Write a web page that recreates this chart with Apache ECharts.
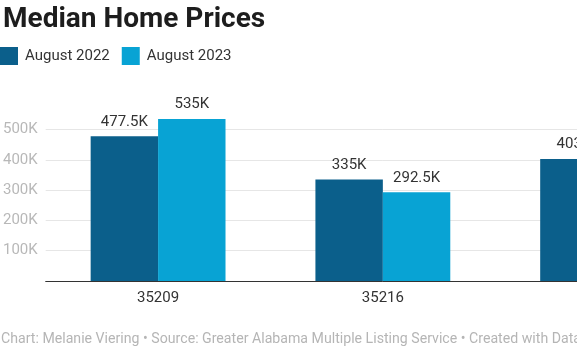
<!DOCTYPE html>
<html><head><meta charset="utf-8">
<script src="https://cdn.jsdelivr.net/npm/echarts@6/dist/echarts.min.js"></script>
<style>html,body{margin:0;padding:0;overflow:hidden;background:#fff;width:577px;height:349px}#c{width:780px;height:349px}</style>
</head><body><div id="c"></div>
<script>
const categories = ['35209', '35216', '35213'];
const aug2022 = [477500, 335000, 403000];
const aug2023 = [535000, 292500, 410000];
const yTicks = [0, 100000, 200000, 300000, 400000, 500000];
const seriesNames = ['August 2022', 'August 2023'];
const colors = ['#0b5f8b', '#08a3d4'];
const fmt = v => (v / 1000) + 'K';
const chart = echarts.init(document.getElementById('c'), null, {renderer: 'canvas'});
chart.setOption({
  animation: false,
  textStyle: {fontFamily: 'Roboto'},
  title: {text: 'Median Home Prices', left: -2, top: 1,
    textStyle: {fontFamily: 'Roboto', fontWeight: 'bold', fontSize: 28, color: '#1d1d1d'}},
  legend: {left: 0, top: 47, padding: 0, itemWidth: 18, itemHeight: 18, itemGap: 12, icon: 'rect',
    textStyle: {fontFamily: 'Roboto', fontSize: 15, color: '#333', padding: [0, 0, 0, 2]},
    data: seriesNames},
  grid: {left: 45, top: 129.5, width: 675, bottom: 68, containLabel: false},
  xAxis: {type: 'category', data: categories,
    axisLine: {lineStyle: {color: '#333', width: 1}}, axisTick: {show: false},
    axisLabel: {fontFamily: 'Roboto', fontSize: 15, color: '#333', margin: 10}},
  yAxis: {type: 'value', min: yTicks[0], max: yTicks[yTicks.length - 1], interval: 100000,
    axisLine: {show: false}, axisTick: {show: false},
    splitLine: {lineStyle: {color: '#e6e6e6'}},
    axisLabel: {fontFamily: 'Roboto', fontSize: 15, color: '#b8b8b8', margin: 8,
      formatter: v => v === 0 ? '' : fmt(v)}},
  graphic: [{type: 'text', left: 1, top: 332,
    style: {text: 'Chart: Melanie Viering • Source: Greater Alabama Multiple Listing Service • Created with Datawrapper',
      font: '14.15px Roboto', fill: '#b5b5b5'}}],
  series: [
    {name: seriesNames[0], type: 'bar', data: aug2022, clip: false, barGap: '0%', barCategoryGap: '40%',
     itemStyle: {color: colors[0]},
     label: {show: true, position: 'top', distance: 7, fontFamily: 'Roboto', fontSize: 15, color: '#333', formatter: p => fmt(p.value)}},
    {name: seriesNames[1], type: 'bar', data: aug2023, clip: false,
     itemStyle: {color: colors[1]},
     label: {show: true, position: 'top', distance: 7, fontFamily: 'Roboto', fontSize: 15, color: '#333', formatter: p => fmt(p.value)}}
  ]
});
</script></body></html>
